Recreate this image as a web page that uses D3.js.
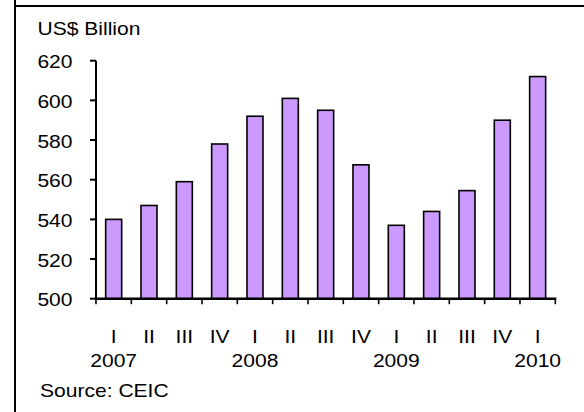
<!DOCTYPE html>
<html>
<head>
<meta charset="utf-8">
<script src="https://cdn.jsdelivr.net/npm/d3@7"></script>
<style>
  html, body { margin: 0; padding: 0; background: #fff; }
  svg { display: block; }
  text { font-family: "Liberation Sans", Arial, sans-serif; fill: #000; }
</style>
</head>
<body>
<svg id="chart" width="584" height="412"></svg>
<script>
// Quarterly totals, US$ billion
const quarters = ["I", "II", "III", "IV", "I", "II", "III", "IV", "I", "II", "III", "IV", "I"];
const years = ["2007", "2008", "2009", "2010"];
const values = [540, 547, 559, 578, 592, 601, 595, 567.5, 537, 544, 554.5, 590, 612];
const yTicks = [500, 520, 540, 560, 580, 600, 620];
const unitLabel = "US$ Billion";
const sourceLabel = "Source: CEIC";

const svg = d3.select("#chart");
const fontSize = 18;
const stretch = 1.17;

// Wide sans text: glyphs are widened horizontally around their anchor point
function label(parent, x, y, str, anchor) {
  return parent.append("text")
    .attr("transform", `translate(${x},${y}) scale(${stretch},1)`)
    .attr("text-anchor", anchor || "start")
    .style("font-size", fontSize + "px")
    .text(str);
}

// Panel frame: left rule and top rule
svg.append("line")
  .attr("x1", 15).attr("x2", 15).attr("y1", 0).attr("y2", 412)
  .attr("stroke", "#000").attr("stroke-width", 2);
svg.append("line")
  .attr("x1", 15).attr("x2", 584).attr("y1", 6).attr("y2", 6)
  .attr("stroke", "#000").attr("stroke-width", 2);

const plot = { left: 96, right: 555.3, top: 60.7, bottom: 298.7 };

const idx = values.map((d, i) => i);
const x = d3.scaleBand()
  .domain(idx)
  .range([plot.left, plot.right])
  .paddingInner(0.547)
  .paddingOuter(0.2735);

const y = d3.scaleLinear()
  .domain([500, 620])
  .range([plot.bottom, plot.top]);

// Bars
svg.append("g")
  .selectAll("rect")
  .data(values)
  .join("rect")
  .attr("x", (d, i) => x(i))
  .attr("y", d => y(d))
  .attr("width", x.bandwidth())
  .attr("height", d => y(500) - y(d))
  .attr("fill", "#CC99FF")
  .attr("stroke", "#000")
  .attr("stroke-width", 1.6);

// Y axis
const yAxis = svg.append("g");
yAxis.append("line")
  .attr("x1", plot.left).attr("x2", plot.left)
  .attr("y1", y(620)).attr("y2", y(500))
  .attr("stroke", "#000").attr("stroke-width", 2);
yAxis.selectAll("line.tick")
  .data(yTicks)
  .join("line")
  .attr("class", "tick")
  .attr("x1", plot.left - 6).attr("x2", plot.left)
  .attr("y1", d => y(d)).attr("y2", d => y(d))
  .attr("stroke", "#000").attr("stroke-width", 2);
yTicks.forEach(t => label(yAxis, 72.5, y(t) + 7.6, String(t), "end"));

// X axis with ticks on category boundaries
const step = x.step();
const xAxis = svg.append("g");
xAxis.append("line")
  .attr("x1", plot.left - 1).attr("x2", plot.right + 1)
  .attr("y1", y(500)).attr("y2", y(500))
  .attr("stroke", "#000").attr("stroke-width", 2.4);
xAxis.selectAll("line.tick")
  .data(d3.range(values.length + 1))
  .join("line")
  .attr("class", "tick")
  .attr("x1", k => plot.left + k * step).attr("x2", k => plot.left + k * step)
  .attr("y1", y(500)).attr("y2", y(500) + 5.5)
  .attr("stroke", "#000").attr("stroke-width", 1.6);

const centre = i => x(i) + x.bandwidth() / 2;
quarters.forEach((q, i) => label(xAxis, centre(i), 342.7, q, "middle"));
let yi = 0;
quarters.forEach((q, i) => {
  if (q === "I" && yi < years.length) {
    label(xAxis, centre(i), 367.3, years[yi], "middle");
    yi += 1;
  }
});

// Unit and source notes
label(svg, 37.5, 35, unitLabel, "start");
label(svg, 40, 397, sourceLabel, "start");
</script>
</body>
</html>
